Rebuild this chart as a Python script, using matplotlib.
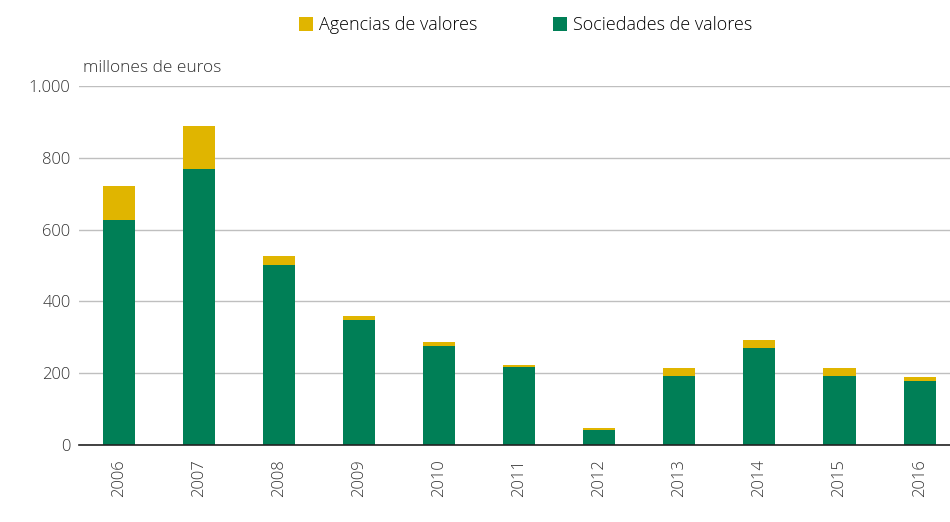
import matplotlib.pyplot as plt
import numpy as np

years = ['2006', '2007', '2008', '2009', '2010', '2011',
         '2012', '2013', '2014', '2015', '2016']
sociedades = [627, 769, 501, 348, 276, 217, 42, 192, 270, 192, 178]
agencias = [94, 120, 25, 11, 11, 6, 5, 22, 22, 22, 11]

plt.rcParams['font.family'] = ['Open Sans', 'DejaVu Sans']
plt.rcParams['font.weight'] = 'light'

fig = plt.figure(figsize=(9.5, 5.22), dpi=100)
ax = fig.add_axes([0.083, 0.1475, 0.917, 0.6875])

x = np.arange(len(years))
green = '#007F56'
yellow = '#E0B500'
ax.bar(x, sociedades, width=0.4, color=green, label='Sociedades de valores', zorder=3)
ax.bar(x, agencias, width=0.4, bottom=sociedades, color=yellow,
       label='Agencias de valores', zorder=3)

ax.set_xlim(-0.5, 10.38)
ax.set_ylim(0, 1000)
ax.set_yticks([0, 200, 400, 600, 800, 1000])
ax.set_yticklabels(['0', '200', '400', '600', '800', '1.000'])
ax.set_xticks(x)
ax.set_xticklabels(years, rotation=90)
ax.tick_params(axis='both', length=0, labelsize=12, colors='#333333')
ax.tick_params(axis='x', pad=10)
ax.tick_params(axis='y', pad=6)
ax.yaxis.grid(True, color='#BFBFBF', linewidth=1, zorder=0)
for s in ['top', 'right', 'left']:
    ax.spines[s].set_visible(False)
ax.spines['bottom'].set_color('#222222')
ax.spines['bottom'].set_linewidth(1.2)
ax.spines['bottom'].set_zorder(4)

fig.text(0.087, 0.855, 'millones de euros', fontsize=12.5, color='#333333', va='bottom')

handles, labels = ax.get_legend_handles_labels()
fig.legend(handles[::-1], labels[::-1], loc='upper center', bbox_to_anchor=(0.553, 1.0),
           ncol=2, frameon=False, fontsize=13, handlelength=0.8, handleheight=0.8,
           handletextpad=0.3, columnspacing=4.2)

fig.savefig('out.png', dpi=100)
